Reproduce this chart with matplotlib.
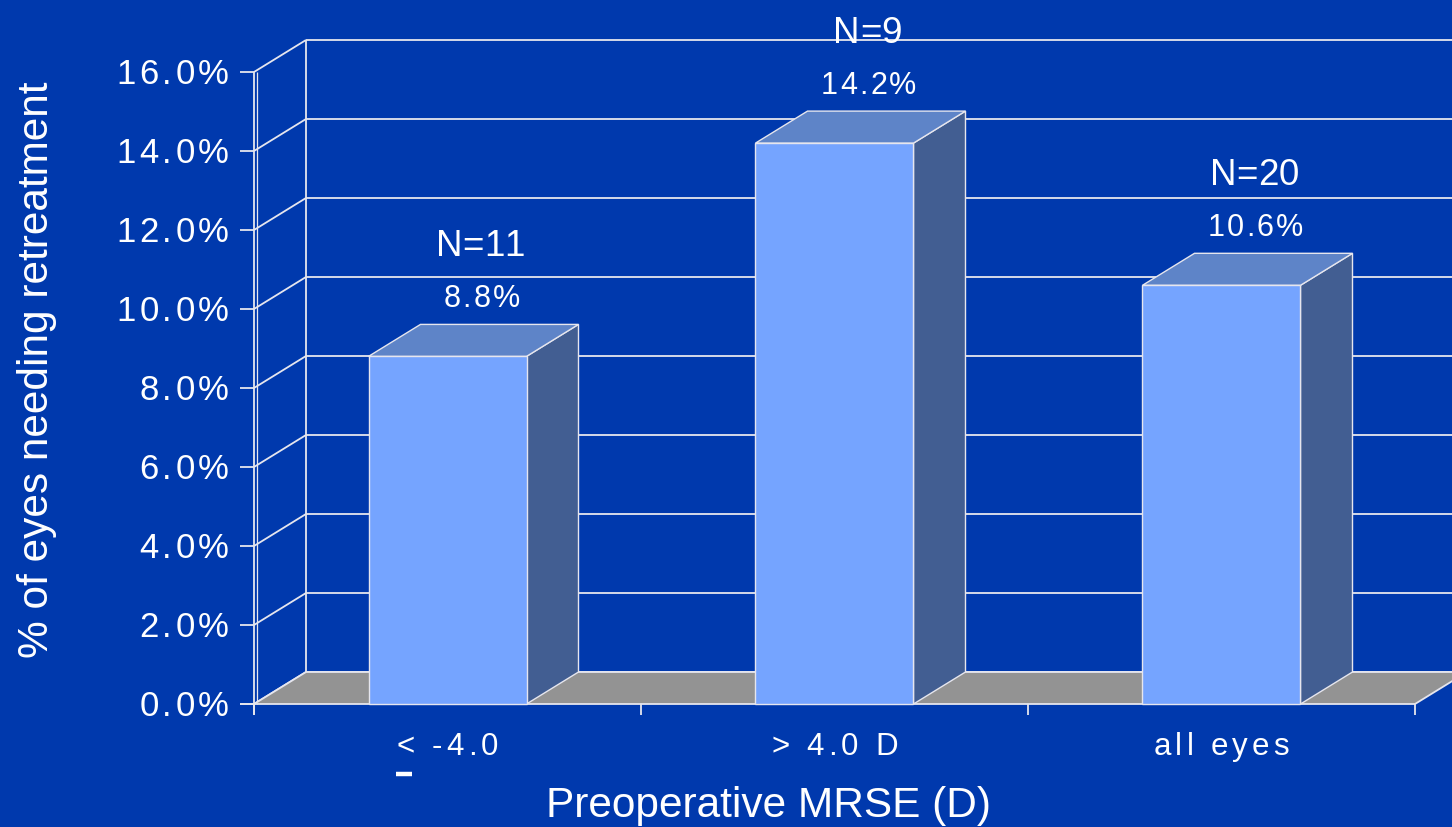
import matplotlib
matplotlib.use('Agg')
import numpy as np
from matplotlib import pyplot as plt
from matplotlib.patches import Polygon, Rectangle
from matplotlib.lines import Line2D
from matplotlib.font_manager import FontProperties, findfont
from matplotlib.ft2font import FT2Font

# data
groups = ['< -4.0', '> 4.0 D', 'all eyes']
pct = [8.8, 14.2, 10.6]
counts = ['N=11', 'N=9', 'N=20']
yticks = [0, 2, 4, 6, 8, 10, 12, 14, 16]

bg = '#0039AD'
front_c = '#75A4FF'
top_c = '#5E84C8'
side_c = '#425E92'
floor_c = '#939393'
line_c = '#E6E6EE'
FAM = 'Liberation Sans'

W, H = 1452, 828
fig = plt.figure(figsize=(W / 100, H / 100), dpi=100, facecolor=bg)
# axes box = front plane of the 3d chart
x0, x1, y0, y1 = 254, 1415, 705, 73
ax = fig.add_axes([x0 / W, (H - y0) / H, (x1 - x0) / W, (y0 - y1) / H])
ax.set_xlim(-0.5, 2.5)
ax.set_ylim(0, 16)
ax.axis('off')

# depth offset in data units (52 px right, 32 px up)
dx = 52 / (x1 - x0) * 3
dy = 32 / (y0 - y1) * 16
bw = 158 / (x1 - x0) * 3
xl, xr = -0.5, 2.5

_font = FT2Font(findfont(FontProperties(family=FAM)))


def to_px(x, y):
    px, py = ax.transData.transform((x, y))
    return px, H - py


def tracked(xp, yp, s, size, track, ha='center'):
    """text with extra letter spacing; xp, yp = anchor / baseline in px from top-left"""
    _font.set_size(size, 100)
    adv = [_font.load_char(ord(c)).linearHoriAdvance / 65536 for c in s]
    total = sum(adv) + track * (len(s) - 1)
    if ha == 'center':
        cur = xp - total / 2
    elif ha == 'right':
        cur = xp - total
    else:
        cur = xp
    for c, a in zip(s, adv):
        if c != ' ':
            fig.text((cur + a / 2) / W, 1 - yp / H, c, color='white', fontsize=size,
                     family=FAM, ha='center', va='baseline', zorder=10)
        cur += a + track


def ln(xs, ys, **kw):
    kw.setdefault('color', line_c)
    kw.setdefault('lw', 1.3)
    ax.plot(xs, ys, clip_on=False, solid_capstyle='butt', **kw)


# back wall grid + side wall diagonals
for v in yticks:
    ln([xl + dx, xr + dx + 0.5], [v + dy, v + dy], zorder=1)
    ln([xl, xl + dx], [v, v + dy], zorder=1)
    ln([xl - 0.035, xl], [v, v], zorder=1)
ln([xl + dx, xl + dx], [dy, 16 + dy], zorder=1)
ln([xl, xl], [-0.28, 16], zorder=1)
ln([xl + 0.008, xl + 0.008], [0, 16], zorder=1, lw=0.9)

# floor
floor = Polygon([(xl, 0), (xr, 0), (xr + dx, dy), (xl + dx, dy)], closed=True,
                facecolor=floor_c, edgecolor='none', zorder=2, clip_on=False)
ax.add_patch(floor)
ln([xl, xr], [0, 0], zorder=3)
ln([xl + dx, xr + dx], [dy, dy], zorder=3)
ln([xl, xl + dx], [0, dy], zorder=3)
ln([xr, xr + dx], [0, dy], zorder=3)
ln([xl - 0.035, xl], [0, 0], zorder=3)
for b in [-0.5, 0.5, 1.5, 2.5]:
    ln([b, b], [0, -0.28], zorder=3)

# bars
for i, h in enumerate(pct):
    l, r = i - bw / 2, i + bw / 2
    side = Polygon([(r, 0), (r + dx, dy), (r + dx, h + dy), (r, h)], closed=True,
                   facecolor=side_c, edgecolor=line_c, lw=1.0, zorder=4, clip_on=False)
    top = Polygon([(l, h), (r, h), (r + dx, h + dy), (l + dx, h + dy)], closed=True,
                  facecolor=top_c, edgecolor=line_c, lw=1.0, zorder=4, clip_on=False)
    front = Rectangle((l, 0), bw, h, facecolor=front_c, edgecolor=line_c,
                      lw=1.0, zorder=5, clip_on=False)
    ax.add_patch(side)
    ax.add_patch(top)
    ax.add_patch(front)
    px, py = to_px(i + dx / 2, h + dy)
    tracked(px + 8, py - 18, f'{h:.1f}%', 22, 2.3)
    tracked(px + 7, py - 69, counts[i], 26.5, 0)

# y tick labels
for v in yticks:
    px, py = to_px(xl, v)
    tracked(px - 25, py + 11, f'{v:.1f}%', 25, 3.5, ha='right')

# category labels
for i, g in enumerate(groups):
    px, py = to_px(i, 0)
    tracked(px, py + 50, g, 22.5, 4.2)
    if i == 0:
        # stray underline of the "<" sign on the slide
        fig.add_artist(Line2D([(px - 51) / W, (px - 35) / W],
                              [1 - (py + 70) / H, 1 - (py + 70) / H],
                              color='white', lw=3.2, solid_capstyle='butt'))

fig.text(769 / W, 1 - 806 / H, 'Preoperative MRSE (D)', color='white',
         fontsize=30.5, family=FAM, ha='center', va='center')
fig.text(37 / W, 1 - 370 / H, '% of eyes needing retreatment', color='white',
         fontsize=30.5, family=FAM, ha='center', va='center', rotation=90)

fig.savefig('out.png', dpi=100, facecolor=bg)
